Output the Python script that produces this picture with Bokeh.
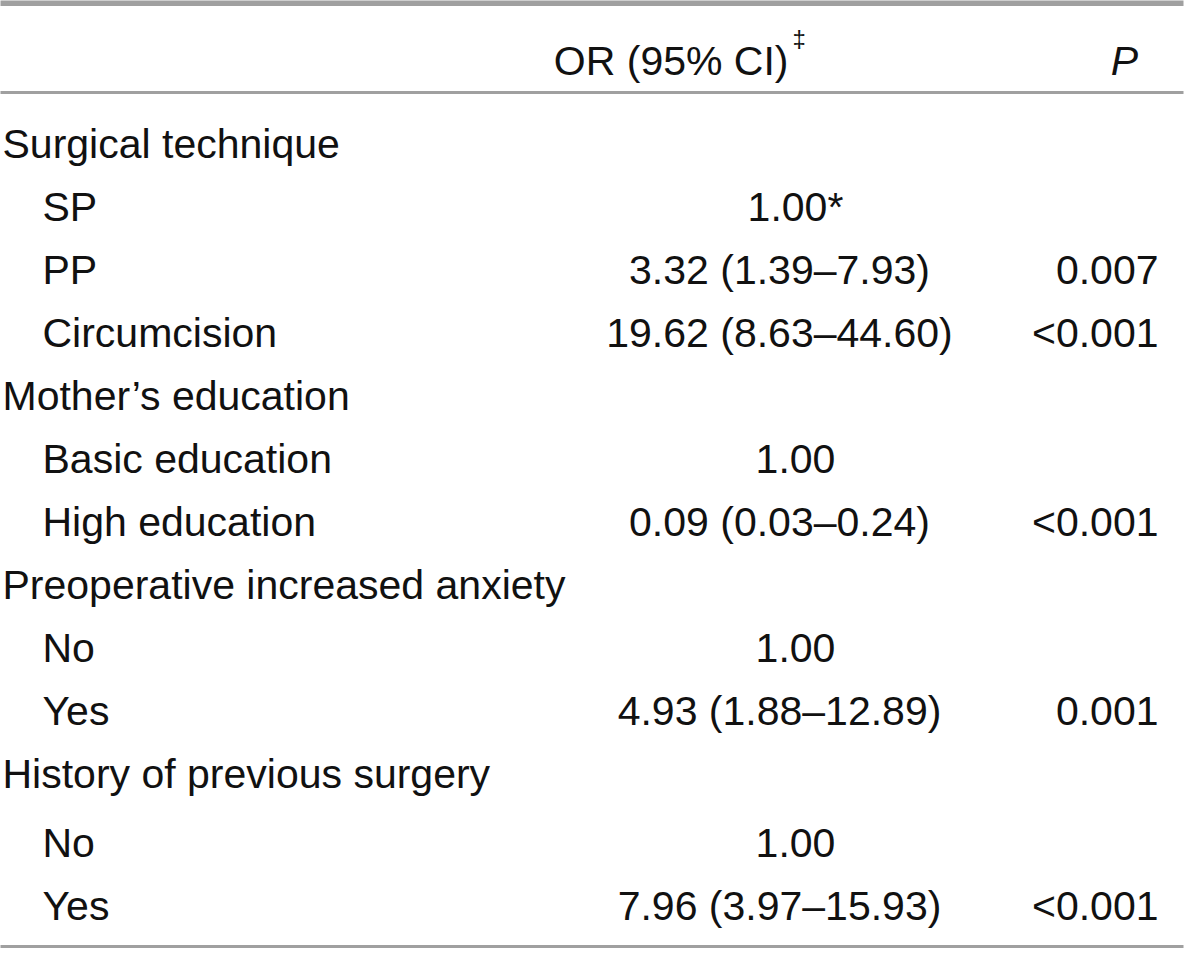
from bokeh.plotting import figure
from bokeh.models import Range1d, ColumnDataSource
from bokeh.core.properties import value
from bokeh.embed import file_html
from bokeh.resources import INLINE

# ---- table content ----
labels = ["Surgical technique", "SP", "PP", "Circumcision",
          "Mother\u2019s education", "Basic education", "High education",
          "Preoperative increased anxiety", "No", "Yes",
          "History of previous surgery", "No", "Yes"]
indent = [0, 1, 1, 1, 0, 1, 1, 0, 1, 1, 0, 1, 1]
or_ci = ["", "1.00*", "3.32 (1.39\u20137.93)", "19.62 (8.63\u201344.60)",
         "", "1.00", "0.09 (0.03\u20130.24)",
         "", "1.00", "4.93 (1.88\u201312.89)",
         "", "1.00", "7.96 (3.97\u201315.93)"]
p_vals = ["", "", "0.007", "<0.001", "", "", "<0.001",
          "", "", "0.001", "", "", "<0.001"]
header_or = "OR (95% CI)"
header_mark = "\u2021"
header_p = "P"

# ---- layout / style ----
W, H = 1184, 948
FONT = value("Liberation Sans")
FS = "41px"
TXT = "#111111"
RULE = "#a0a0a0"

p = figure(width=W, height=H, x_range=Range1d(8, 8 + W), y_range=Range1d(8 + H, 8),
           output_backend="svg", toolbar_location=None, min_border=0)
p.axis.visible = False
p.grid.visible = False
p.outline_line_color = None
p.background_fill_color = "white"
p.border_fill_color = "white"

ys = [151 + 63 * i + (6 if i >= 11 else 0) for i in range(len(labels))]
lab_x = [10 + 40 * k for k in indent]
or_x = [787 if "(" in s else 803 for s in or_ci]

src = ColumnDataSource(dict(y=ys, lab=labels, lx=lab_x, orv=or_ci, ox=or_x, pv=p_vals))

p.text(x="lx", y="y", text="lab", source=src, text_font=FONT, text_font_size=FS,
       text_align="left", text_baseline="middle", text_color=TXT)
p.text(x="ox", y="y", text="orv", source=src, text_font=FONT, text_font_size=FS,
       text_align="center", text_baseline="middle", text_color=TXT)
p.text(x=1166, y="y", text="pv", source=src, text_font=FONT, text_font_size=FS,
       text_align="right", text_baseline="middle", text_color=TXT)

# header
p.text(x=[796], y=[68], text=[header_or], text_font=FONT, text_font_size=FS,
       text_align="right", text_baseline="middle", text_color=TXT)
p.text(x=[800], y=[46], text=[header_mark], text_font=FONT, text_font_size="24px",
       text_align="left", text_baseline="middle", text_color=TXT)
p.text(x=[1132], y=[68], text=[header_p], text_font=FONT, text_font_size=FS,
       text_font_style="italic", text_align="center", text_baseline="middle", text_color=TXT)

# rules
p.segment(x0=[3], x1=[1191], y0=[10], y1=[10], line_color=RULE, line_width=7)
p.segment(x0=[3], x1=[1191], y0=[100], y1=[100], line_color=RULE, line_width=3)
p.segment(x0=[3], x1=[1191], y0=[954], y1=[954], line_color=RULE, line_width=3)

open("out.html", "w").write(file_html(p, INLINE))
